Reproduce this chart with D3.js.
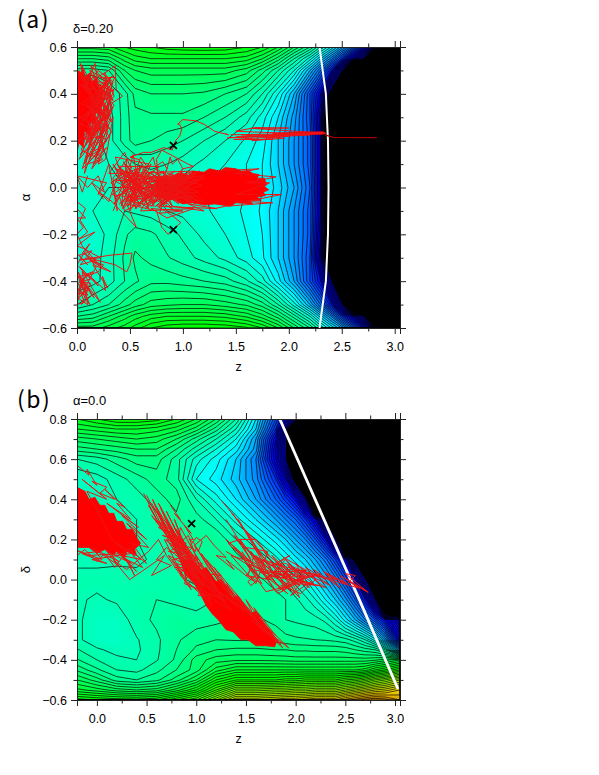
<!DOCTYPE html>
<html><head><meta charset="utf-8">
<script src="https://cdn.jsdelivr.net/npm/d3@7"></script>
<style>
html,body{margin:0;padding:0;background:#fff}
svg{display:block}
text{font-family:"Liberation Sans",Arial,sans-serif;fill:#000}
</style></head><body>
<svg id="c" width="599" height="775"></svg>
<script>
// ---------- panel (a): energy field in contour-level units, rows from top (alpha=.6) to bottom
const zGridA=[0,.15,.3,.45,.55,.7,.85,1,1.2,1.4,1.6,1.75,1.9,2.05,2.2,2.3,2.4,2.5,2.6,2.7,2.8,2.9,3.05];
const alphaGridA=[.6,.55,.5,.4,.3,.2,.1,0,-.1,-.2,-.3,-.4,-.5,-.55,-.6];
const fieldA=[
[3.5,3.5,3.3,2,1.5,1,.5,.3,.2,.3,1,2,4,7,10,13,16,19.5,23,27,32,37.5],
[7,7,6.5,4.5,3.5,3,3,3,3,3,3.5,5,7.5,11,14.5,18,21.5,26,32,38.5],
[10.5,10.5,10,7,6,5.5,5.5,5.5,5.5,5.5,6.5,8.5,11,14,19,23,28,38],
[13,12.8,12,10.5,8.6,8,8,8,8.2,9,10,12,15,19,25,30,41],
[14,13.5,12.5,10.5,9.3,9.2,9.2,9.2,10,11,12.5,14.5,17,20.5,25,32,54],
[14,13.5,12.5,10.5,9.5,10,10.5,11,12,13,14.2,15.5,18,21,24.5,31,52],
[13.5,13.3,13,12.8,12,11.7,12,12.5,13.3,14,15,16,18,21,24.5,31,52],
[13,13,13,13,13,13,13,13.5,14,14.5,15,16,17.4,20,24,31,52],
[13.5,13,12.5,12,12.2,12.5,13,13.3,13.8,14.5,15.2,16.2,18,21,24.5,31,52],
[14,13.5,12.8,11.2,10.5,10.8,11.5,12.2,13.3,14,15,16,18,21,24.5,32,52],
[14,13.5,12.5,10.8,9.8,10.3,10.9,11.5,12.4,13.3,14.5,15.8,18,21,25,33,54],
[13.8,13.4,12.5,11,10.2,9.3,9.3,9.6,10,10.5,11.8,13.5,16.5,20,25,29,37,60],
[12,11,10,8.5,7.5,6.5,6.2,6,6,6.5,7.2,8.5,11,14.5,19,23,28,37,60],
[9,8.5,7,5.5,4.5,3.5,3,3,3,3.3,4.2,5.5,7.5,10.5,14,17.5,21,26,31,38],
[5.5,5.5,4.5,3.5,2.5,1,.3,0,0,.2,.8,2,4,7,10,13,16,19,23,27,32,37.5]];
const solidA=[
[0,.5,.04,.49,.05,.52,.08,.47,.12,.49,.14,.45,.19,.47,.2,.42,.25,.44,.23,.39,.27,.38,.22,.35,.24,.31,.17,.32,.18,.27,.12,.28,.13,.22,.07,.24,.06,.17,.02,.19,0,.15],
[.74,.03,.8,.045,.88,.035,.95,.06,1,.06,1.05,.05,1.1,.07,1.2,.065,1.25,.08,1.35,.07,1.4,.085,1.5,.08,1.55,.07,1.62,.072,1.66,.06,1.72,.055,1.7,.04,1.77,.04,1.78,.025,1.8,.015,1.77,.005,1.81,-.01,1.76,-.02,1.78,-.035,1.7,-.04,1.74,-.055,1.63,-.055,1.66,-.07,1.5,-.065,1.45,-.08,1.3,-.07,1.2,-.075,1.1,-.065,1,-.07,.92,-.05,.84,-.055,.76,-.03],
[1.85,.222,2.1,.224,2.33,.228,2.33,.238,2.1,.236,1.85,.232]];
const walkA=[
[0,.5,.1,.42,.03,.53,.2,.4,.06,.47,.3,.44,.13,.52,.25,.36,.02,.44,.33,.39,.1,.34,.34,.48,.12,.38,.28,.3,.04,.36,.24,.42,.1,.26,.3,.34,.02,.3,.22,.26,.06,.22,.27,.31,.12,.18,.2,.27,.03,.14,.18,.2,.07,.1,.15,.23,0,.2,.25,.22,.1,.13,.22,.16,.05,.08,.19,.3,.26,.15,.14,.08,.3,.27,.17,.12,.33,.36,.43,.39,.37,.42,.36,.52,.3,.5,.19,.47,.17,.53,.14,.5,.08,.43,.2,.5,.34,.45,.24,.32,.33,.28,.2,.35,.31,.25,.16,.3],
[.02,.5,.2,.34,.05,.44,.29,.33,.1,.47,.3,.4,.06,.3,.32,.46,.12,.42,.26,.24,.03,.27,.22,.38,.08,.18,.25,.3,.05,.2,.29,.27,.11,.16,.24,.36,.02,.12,.2,.22,.08,.29,.31,.42,.15,.48,.35,.35,.17,.25,.28,.2,.1,.1,.22,.12,.04,.16,.17,.33,.07,.06,.14,.15,.25,.18,.12,.25,.3,.3,.2,.44,.34,.41,.22,.47,.36,.47,.25,.39,.12,.5,.28,.46,.18,.37,.33,.32,.21,.28,.09,.36,.27,.41],
[.28,.47,.16,.22,.32,.38,.2,.16,.3,.22,.12,.33,.35,.42,.24,.28,.33,.24,.18,.13,.28,.17,.15,.1,.24,.12,.1,.2,.31,.37,.26,.49,.33,.44,.23,.22,.34,.3,.27,.12,.2,.1,.29,.24,.22,.42,.34,.34,.26,.26,.12,.12,.27,.34,.19,.24,.32,.29,.25,.44,.34,.37,.29,.43,.21,.31,.35,.39,.3,.47,.22,.37,.3,.32,.17,.17,.25,.26],
[0,.05,.28,.02,.2,-.03,.3,.1,.38,-.1,.34,.04,.47,.12,.42,-.08,.55,.07,.5,-.1,.7,.07,.47,-.05,.8,.05,.55,-.09,.95,.06,.6,-.06,1.1,.06,.48,.03,1,-.07,.7,.06,1.15,-.06,.62,.08,.9,-.08,.75,.08,1.2,-.06,.52,-.02,1.1,.07,.42,.06,.85,-.07,.36,.08,.6,.05,.33,-.03,.75,-.06,.4,.03,1,.05,.45,-.06,.8,-.03,.55,.04,.95,-.05,.65,.02,1.1,-.04,.58,-.04,1.2,.04,.7,-.02,.9,.04,.5,.05,.72,-.07,.85,.08,.65,-.09,1,.07,.78,-.08,1.1,.02,.37,.03,.3,-.06,.21,-.02,.33,-.06,.56,-.17,.47,-.07,.75,-.1,.8,-.17,.86,-.2,.98,-.15,.9,-.12,.76,-.08,1.32,-.09,1.05,-.07,1.2,-.1,.9,-.08,.58,.12,.5,.13,.63,.15,.7,.15,.82,.17,.9,.16,.93,.2,.97,.22,.99,.25,.97,.27,.95,.27,1,.29,1.12,.285,1.2,.27,1.3,.24,1.43,.225,1.4,.23],
[.85,.06,1.15,.03,.75,-.05,1.1,-.04,.8,.07,1.05,-.06,.72,.03,1.2,.05,.82,-.07,1,.03,.68,-.03,1.15,-.02,.78,.04,1.08,-.05,.7,.06,.98,-.03,.74,-.08,1.12,.06,.86,-.02,1,.08,.66,-.07,1.18,.01,.84,.05,.96,-.07,.62,.04,1.06,0,.76,-.03,1.16,.07,.88,.02,.7,-.08,1.02,.05,.64,-.01,.92,.07,.58,-.07,.8,0,1.12,-.07,.72,.07,.94,0,.56,.06,.86,-.05,.5,0,.82,.07,.6,-.02,.9,-.09,.54,.08,.68,-.09,.44,-.02,.78,.09,.4,.09,.6,-.08,.32,.02,.52,.09,.35,-.07,.62,.1,.43,-.09,.68,.1,.36,.13,.42,.06,.3,.06,.45,.15,.5,.09,.53,.14,.56,.07,.6,.13,.66,.09,.72,.13,.74,.09,.81,.11,.85,.08,.88,.13,.9,.1,.95,.12,1,.08,1.1,.09,1.05,.1,.8,.16,.75,.12,.8,-.08,.78,-.11,1,-.1,.7,-.09,.85,-.13,1.1,-.09,.6,-.1,.66,-.05,.45,-.1,.4,-.04,.34,-.1],
[.42,.08,.72,-.06,.46,.1,.7,-.02,.38,.05,.64,.09,.48,-.08,.74,.05,.4,-.07,.66,.03,.36,-.04,.6,.0,.44,.11,.58,-.05,.34,.1,.56,-.09,.47,.07,.66,-.07,.52,.03,.42,-.03,.7,.1,.55,-.04,.38,.1,.62,-.03,.49,.06,.73,-.08,.52,-.06,.65,.06,.45,.02,.6,.09,.5,-.07,.68,.0,.4,.0,.57,.07,.35,.03,.55,-.02,.44,-.09],
[.1,.05,.05,-.02,0,.05,.1,0,.2,.05,.26,-.02,.14,.02,.25,-.05],
[1.3,.07,1.72,.08,1.5,.06,1.88,.045,1.6,.02,1.82,.02,1.5,-.03,1.93,-.03,1.6,-.06,1.85,-.065,1.4,-.08,1.3,-.09],
[1.45,.225,2.3,.232,1.5,.215,2.35,.232,1.66,.252,2,.254,1.68,.256,1.5,.24,2.1,.23,1.42,.212,2,.22,1.65,.2,1.95,.21,1.55,.225,2.2,.225,1.48,.205,1.85,.205],
[0,-.06,.08,-.09,.03,-.14,.1,-.19,.02,-.22,.17,-.19,0,-.25,.06,-.26,.22,-.3,.02,-.31,.3,-.29,.52,-.28,.5,-.33,.47,-.36,.36,-.33,.1,-.3,.32,-.36,.15,-.33,.29,-.43,.24,-.38,.27,-.44,.1,-.37,.2,-.42,.03,-.34,.22,-.49,.08,-.41,.16,-.47,0,-.37,.12,-.5,.02,-.43,.07,-.49,0,-.5,.05,-.4,0,-.45,.1,-.46,.03,-.38,.15,-.36,.02,-.4,.13,-.41,.04,-.46,.18,-.34,.08,-.28],
[0,-.28,.1,-.33,.02,-.29,.14,-.27,.03,-.33,.18,-.31,.05,-.28,.12,-.24,0,-.33,.09,-.37,.02,-.42,.09,-.44,.02,-.47,.11,-.43,.04,-.5,.14,-.46,.01,-.36,.06,-.43,0,-.41,.13,-.39,.05,-.36,.1,-.5,0,-.47,.08,-.38,.2,-.36,.25,-.33,.12,-.31,.23,-.34,.05,-.25,0,-.2,.06,-.17,0,-.13,.08,-.13,0,-.09]];
const walkDarkA=[2.34,.225,2.42,.214,2.83,.213];
const whiteA=[2.29,.6,2.35,.4,2.37,.2,2.375,0,2.37,-.2,2.35,-.4,2.29,-.6];
const markersA=[.91,.18,.91,-.18];
// ---------- panel (b): rows from top (delta=.8) to bottom (delta=-.6)
const zGridB=[-.2,0,.2,.4,.6,.8,1,1.2,1.4,1.6,1.8,1.9,2,2.1,2.2,2.3,2.4,2.5,2.6,2.7,2.8,2.9,3.05];
const deltaGridB=[.8,.75,.7,.65,.6,.5,.4,.3,.2,.1,0,-.1,-.2,-.3,-.35,-.4,-.45,-.5,-.55,-.6];
const fieldB=[
[2,1,0,0,.5,2,4,7,11,17,25,30,38],
[4,3.5,3,3,3.5,4.5,6.5,9.5,13,18,27,36],
[6.5,6,5.5,5,5.5,7,9.5,12,15,20,30,38],
[8.5,8,7.5,7,7,9,11.5,14,16.5,20.5,31,38],
[11,10.5,9.5,8.5,8.5,10.5,13.5,15.5,18,22,31,37.5],
[13,12.5,11.5,10.5,9.5,10.5,15,16.5,18.5,21.5,27,32,41],
[12.5,12.5,12,11.5,10.5,9.5,12,14.5,17,20,24,26.5,29.5,36],
[12.5,12.3,12.2,12,11.3,10.3,10.5,12,14.5,17,20,22,24,27,31,40],
[12.3,12.3,12.2,12,11.5,10.8,10,10,12,14,16.5,18,20,22,25,29,36],
[12.3,12.3,12.2,12.2,11.8,11.2,10.5,10.2,10.5,11.8,13.5,15,16.5,18,20,22.5,26,30,41],
[11.6,11.6,11.6,11.7,11.5,11.2,10.8,10.5,10.5,10.7,11.5,12.3,13.5,15,17,19,21.5,25,29,38],
[11.8,12.2,11.8,11.2,11,11.3,11.5,11,10.6,10.3,10.6,11,11.8,12.6,14,16,18,20.5,24,29,37],
[11.7,12.8,12.8,11.4,10.8,10.2,10.6,10.3,9.9,9.8,10.3,11,11.2,11.4,11.6,12.3,14,16.5,19,22,25,29,36],
[11.7,12.8,13,12.1,11.2,10.2,9.3,9,9.1,9.1,9.3,9.6,9.8,9.9,10,10.1,10.3,10.6,11.5,13,15.5,20,30],
[10.9,11.8,12.4,12.2,11.2,10,8.8,8,7.8,7.8,8,8,8.2,8.2,8.3,8.3,8.3,8.5,9,9.5,10,12,20],
[9.9,11,11.7,12,11.1,9.8,7.5,6.5,6.2,6.2,6.3,6.4,6.5,6.5,6.5,6.5,6.5,6.5,6.5,6.5,6.2,5.5,4],
[8.2,9.8,11,11.3,10.3,9,7.5,4.5,3,3,3,3,3,3,3,3,3,3,3,2.5,1,0,-2],
[6,7.5,9.5,10,9.3,7.5,5,1,-1,-1,-1,-1.5,-1.5,-2,-2,-2,-2,-3,-3.5,-4.5,-6,-7,-9],
[3.7,4.5,5.5,6,5.5,3.5,1,-3,-6.5,-6.5,-7,-7,-7.5,-7.5,-8,-8,-8,-9,-10,-11,-12,-12.5,-14],
[-.5,0,.3,.5,0,-2,-4,-8,-12,-12,-12.5,-13,-13,-13.5,-14,-14,-14,-15.5,-16.5,-17.5,-18,-17.5,-16]];
const solidB=[
[-.2,.46,-.12,.44,-.08,.4,-.02,.41,.03,.37,.08,.37,.12,.33,.17,.33,.2,.29,.26,.29,.3,.25,.36,.25,.4,.21,.44,.18,.38,.15,.4,.12,.3,.14,.28,.11,.2,.14,.16,.12,.08,.15,0,.13,-.08,.16,-.2,.16],
[.97,.095,1.05,.05,1.1,.06,1.2,-.01,1.25,0,1.37,-.09,1.42,-.08,1.55,-.17,1.6,-.16,1.72,-.24,1.81,-.3,1.79,-.335,1.7,-.33,1.6,-.33,1.52,-.3,1.45,-.3,1.37,-.26,1.3,-.25,1.22,-.2,1.16,-.17,1.1,-.13,1.04,-.07,.98,-.02,.9,.02,.84,.095]];
const walkB=[
[-.2,.57,-.08,.52,-.1,.55,0,.47,-.05,.49,.1,.46,.03,.43,.18,.4,.08,.45,.28,.36,.2,.38,.34,.3,.1,.38,.42,.26,.25,.32,.5,.2,.3,.28,.52,.16,.35,.18,.5,.08,.3,.16,.45,.1,.25,.12,.4,.04,.2,.14,.35,.08,.1,.14,.22,.07,-.05,.16,.05,.1,-.2,.145,-.1,.12,.3,.13,.2,.18,.38,.12,.15,.2,-.1,.44,.1,.4,-.15,.5,.05,.42],
[-.2,.12,-.12,.15,0,.09,.08,.13,.18,.06,.27,.12,.38,.02,.3,.1,.46,.06,.35,.13,-.05,.1,.1,.08,-.15,.13,.02,.14,.22,.09,.14,.12],
[.47,.43,.6,.3,.52,.37,.7,.22,.55,.32,.82,.15,.62,.33,.9,.08,.68,.26,1,.07,.72,.28,.95,.1,.78,.2,1.05,.02,.75,.25,1.12,-.02,.85,.18,1.02,.06,.82,.12,.7,.2,.9,.16,1.1,.04,.8,.08,1,-.03,.88,.12,1.2,-.06,.95,.03,1.3,-.12,1.05,.05,.92,-.02,1.1,-.08,1.35,-.15,.85,.1,.7,.16,.6,.1,.75,.07,.55,.02,.68,.12,.45,.04,.33,0,.17,.095,.3,.05,.52,.14,.62,.2,.7,.12,.95,-.05,.82,.05,1.25,.02,1.1,.1,1.3,-.05,1.05,.13,1.4,-.1,1.18,.06,1.55,-.16,1.3,-.03,1.7,-.25,1.45,-.13,1.85,-.32,1.55,-.2,1.93,-.34,1.72,-.24,1.87,-.34,1.6,-.22],
[.5,.42,.72,.2,.56,.4,.8,.16,.6,.34,.85,.12,.64,.36,.92,.05,.7,.3,.95,.02,.74,.26,1,0,.78,.3,1.05,-.03,.8,.22,.62,.26,.9,.18,.72,.14,.98,.12,.76,.1,.9,0,.82,.16,1.08,.05,.86,.06,1.1,-.1,.9,.1,1.18,-.02,.94,.14,.84,.02,1.15,-.12,.96,.08,1.22,-.05,1,.12,.88,-.02,1.28,-.1,1.1,.02,1.02,-.08,1.35,-.08,1.12,.06,1,.16,1.25,-.03,1.42,-.13,1.2,-.05,1.48,-.16,1.3,-.02,1.55,-.18,1.4,-.07,1.62,-.22,1.5,-.1,1.7,-.24,1.58,-.14,1.8,-.28],
[.55,.38,.68,.27,.58,.3,.78,.22,.62,.38,.82,.2,.66,.22,.86,.18,.7,.34,.9,.14,.72,.2,.94,.09,.76,.28,1,.05,.8,.13,.84,.26,1.02,.1,.88,.07,.78,.16,.92,.22,1.08,.0,.86,.2,.98,.03,.74,.17,.96,.16,.83,.09,1.06,.08,.9,.03,.7,.24,.88,.16,.8,.25,1,.09,.66,.29,.84,.1,.6,.36,.76,.23,.92,.12,.68,.2,.86,.02,.72,.12,.95,.06,.78,.06],
[1.26,.39,1.46,.27,1.36,.33,1.56,.2,1.45,.27,1.73,.12,1.6,.2,1.44,.2,1.32,.18,1.5,.1,1.38,.16,1.62,.02,1.44,.2,1.7,.03,1.55,.14,1.85,-.05,1.6,.12,1.95,-.06,1.72,.06,1.94,.12,1.82,.08,2.1,-.02,1.88,.11,2.11,.045,1.9,.05,2.04,-.09,1.8,.03,2.2,-.03,2,.05,2.25,.02,2.05,.04,2.35,-.03,2.2,.02,2.4,0,2.3,.03,2.5,-.02,2.45,.02,2.73,-.064,2.5,.005,2.62,-.04,1.65,.1,1.95,.02,1.55,.05,1.5,.02,1.75,0,1.3,.2,1.6,.06,1.95,-.03,1.7,-.06,1.5,.08,2,0],
[1.3,.3,1.55,.1,1.38,.22,1.7,.06,1.42,.3,1.65,.12,1.5,.24,1.8,.02,1.58,.16,1.9,0,1.68,.14,1.98,.02,1.76,.12,2.02,-.04,1.84,.06,1.7,0,1.9,.1,2.08,0,1.95,-.08,2.12,-.02,2,.08,2.2,0,2.05,-.07,1.85,-.03,2.15,.02,1.8,-.06,1.6,.08,1.35,.12,1.6,-.02,1.72,.14,1.5,.16,1.82,-.07,2,-.02,2.25,-.03,2.1,.06,2.3,0,2.18,.05,2.45,-.04,2.28,.04,2.52,-.02,2.6,.02,2.5,.03,2.72,-.06,2.55,-.01,2.65,-.05],
[1.68,.08,1.9,-.04,1.74,.1,1.98,-.05,1.8,.09,2.04,-.03,1.78,.04,2.0,.04,1.86,-.06,2.06,.02,1.88,.03,2.14,-.04,1.92,.07,2.1,.02,1.96,-.01,2.18,-.02,1.72,.02,1.92,-.07,1.64,.04,1.84,.01,2.22,.02,2.02,.0,2.3,-.04,2.08,.04,1.9,.08,1.76,.07,1.58,.12,1.52,.02,1.66,-.02,1.46,.14],
[.74,.37,.84,.3,.78,.33,.95,.23,.88,.27,.97,.2,.93,.2,.98,.18,1,.16,.99,.14,.94,.17,1,.21,1.06,.19,1.02,.14,.98,.17,1.1,.22,1.18,.17,1.3,.11,1.2,.12,1.38,.05,1.3,.1,1.55,0,1.6,-.01,1.55,-.03,1.52,-.01,1.6,.02,1.5,.08,1.3,.14]];
const whiteB=[1.84,.8,2.645,-.105,3.03,-.545];
const markersB=[.953,.279];
const levelColorDomain=[-18,-14,-7,0,13,16,20,30,38];
const levelColorRange=["#c07000","#f0d000","#80ff00","#00ff00","#00ffc4","#00ffff","#00aaff","#0000ff","#0000d0"];
const xMajorA=[0,.5,1,1.5,2,2.5,3], xMinorA=[.25,.75,1.25,1.75,2.25,2.75];
const yMajorA=[-.6,-.4,-.2,0,.2,.4,.6], yMinorA=[-.5,-.3,-.1,.1,.3,.5];
const xMajorB=[0,.5,1,1.5,2,2.5,3], xMinorB=[.25,.75,1.25,1.75,2.25,2.75];
const yMajorB=[-.6,-.4,-.2,0,.2,.4,.6,.8], yMinorB=[-.5,-.3,-.1,.1,.3,.5,.7];

const ABOVE=70, BLACK=38;
const svg=d3.select("#c");
const color=d3.scaleLinear().domain(levelColorDomain).range(levelColorRange).clamp(true);
const pairs=f=>d3.range(0,f.length,2).map(i=>[f[i],f[i+1]]);

function panel(o){
  const x=d3.scaleLinear().domain(o.xd).range([77,400]);
  const y=d3.scaleLinear().domain(o.yd).range(o.yr);
  const n=o.zs.length,m=o.ys.length;
  const flat=[];
  o.field.forEach(r=>{for(let i=0;i<n;i++)flat.push(i<r.length?r[i]:ABOVE)});
  const ix=d3.scaleLinear().domain(d3.range(n)).range(o.zs).clamp(true);
  const iy=d3.scaleLinear().domain(d3.range(m)).range(o.ys).clamp(true);
  const proj=d3.geoTransform({point(a,b){this.stream.point(x(ix(a-.5)),y(iy(b-.5)))}});
  const path=d3.geoPath(proj);
  const id="clip"+o.name;
  svg.append("clipPath").attr("id",id).append("rect")
    .attr("x",77).attr("y",o.yr[1]).attr("width",323).attr("height",o.yr[0]-o.yr[1]);
  const g=svg.append("g").attr("clip-path",`url(#${id})`);
  g.append("rect").attr("x",77).attr("y",o.yr[1]).attr("width",323).attr("height",o.yr[0]-o.yr[1]).attr("fill",color(o.low));
  const fine=d3.range(o.low,BLACK,.25);
  const cont=d3.contours().size([n,m]);
  g.selectAll("path.f").data(cont.thresholds(fine)(flat)).join("path")
    .attr("d",path).attr("fill",d=>color(d.value+.125)).attr("stroke",d=>color(d.value+.125)).attr("stroke-width",.2);
  g.append("path").datum(cont.thresholds([BLACK])(flat)[0]).attr("d",path).attr("fill","#000");
  const lines=d3.range(Math.ceil(o.low),BLACK);
  g.selectAll("path.l").data(cont.thresholds(lines)(flat)).join("path")
    .attr("d",path).attr("fill","none").attr("stroke","#000").attr("stroke-width",.7);
  const line=d3.line().x(d=>x(d[0])).y(d=>y(d[1]));
  g.append("path").attr("d",line(pairs(o.white))).attr("fill","none").attr("stroke","#fff").attr("stroke-width",o.whiteW);
  o.solid.forEach(s=>g.append("path").attr("d",line(pairs(s))+"Z").attr("fill","#f00").attr("stroke","#f00").attr("stroke-width",.8));
  o.walk.forEach(s=>g.append("path").attr("d",line(pairs(s))).attr("fill","none").attr("stroke","#ee1414").attr("stroke-width",1).attr("stroke-linejoin","round"));
  if(o.dark)g.append("path").attr("d",line(pairs(o.dark))).attr("fill","none").attr("stroke","#a80000").attr("stroke-width",1.2);
  const sym=d3.symbol().type(d3.symbolTimes).size(34);
  g.selectAll("path.m").data(pairs(o.markers)).join("path")
    .attr("transform",d=>`translate(${x(d[0])},${y(d[1])})`).attr("d",sym).attr("fill","none").attr("stroke","#000").attr("stroke-width",1.7);
  const fmt=d3.format(".1f");
  const ax=(gen,scale,major,minor,tr,labels,pad)=>{
    const gm=svg.append("g").attr("transform",tr).call(gen(scale).tickValues(minor).tickSize(3.5).tickFormat(""));
    gm.selectAll(".domain").remove();
    const gj=svg.append("g").attr("transform",tr).call(gen(scale).tickValues(major).tickSize(6).tickPadding(pad).tickFormat(labels?fmt:""));
    gj.selectAll("text").style("font-size","12.5px").attr("fill","#000");
    gj.selectAll(".domain,.tick line").attr("stroke","#222");
    gm.selectAll(".tick line").attr("stroke","#222");
  };
  ax(d3.axisBottom,x,o.xMaj,o.xMin,`translate(0,${o.yr[0]})`,true,8);
  ax(d3.axisTop,x,o.xMaj,o.xMin,`translate(0,${o.yr[1]})`,false,3);
  ax(d3.axisLeft,y,o.yMaj,o.yMin,`translate(77,0)`,true,4);
  ax(d3.axisRight,y,o.yMaj,o.yMin,`translate(400,0)`,false,3);
  svg.append("text").attr("x",17).attr("y",o.tagY).style("font-family",'"Noto Sans CJK JP"').style("font-size","23px").style("letter-spacing","1.5px").text(o.tag);
  svg.append("text").attr("x",73).attr("y",o.yr[1]-14).style("font-size","13px").text(o.note);
  svg.append("text").attr("x",238.5).attr("y",o.yr[0]+43).attr("text-anchor","middle").style("font-size","12.5px").text("z");
  svg.append("text").attr("transform",`translate(30,${(o.yr[0]+o.yr[1])/2+10}) rotate(-90)`).attr("text-anchor","middle").style("font-size","13px").text(o.ylab);
}
panel({name:"A",xd:[0,3.05],yd:[-.6,.6],yr:[328,47],zs:zGridA,ys:alphaGridA,field:fieldA,low:0,tagY:28,
  white:whiteA,whiteW:2,solid:solidA,walk:walkA,dark:walkDarkA,markers:markersA,
  xMaj:xMajorA,xMin:xMinorA,yMaj:yMajorA,yMin:yMinorA,tag:"(a)",note:"δ=0.20",ylab:"α"});
panel({name:"B",xd:[-.2,3.05],yd:[-.6,.8],yr:[700,419],zs:zGridB,ys:deltaGridB,field:fieldB,low:-18,tagY:408,
  white:whiteB,whiteW:2.8,solid:solidB,walk:walkB,markers:markersB,
  xMaj:xMajorB,xMin:xMinorB,yMaj:yMajorB,yMin:yMinorB,tag:"(b)",note:"α=0.0",ylab:"δ"});
</script></body></html>
